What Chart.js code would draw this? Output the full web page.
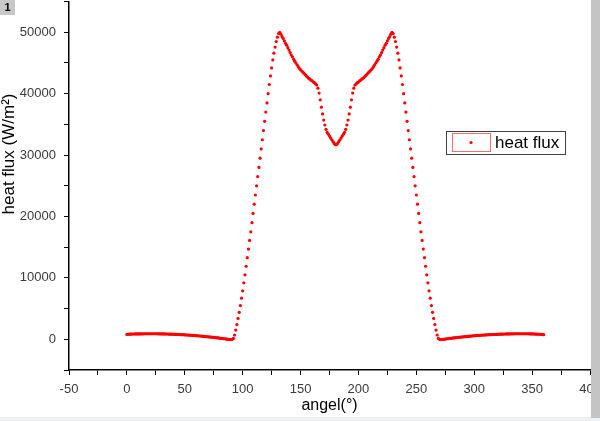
<!DOCTYPE html>
<html>
<head>
<meta charset="utf-8">
<title>heat flux</title>
<script src="https://cdn.jsdelivr.net/npm/chart.js@4.4.1/dist/chart.umd.min.js"></script>
<style>
    html, body { margin: 0; padding: 0; background: #ffffff; }
    #wrap { position: relative; width: 600px; height: 421px; }
</style>
</head>
<body>
<div id="wrap"><canvas id="chartHeatFlux" width="600" height="421"></canvas></div>
<script>
// Data: one sample per degree, 0..360 deg
const angleStart = 0;
const angleStep = 1;
const heatFlux = [
    800, 820, 830, 840, 850, 860, 860, 870, 870, 880,                       // 0-9
    880, 880, 890, 890, 890, 900, 900, 900, 900, 900,                       // 10-19
    900, 900, 900, 900, 900, 900, 900, 890, 890, 890,                       // 20-29
    880, 880, 870, 870, 860, 860, 850, 840, 840, 830,                       // 30-39
    820, 810, 800, 790, 790, 780, 770, 760, 750, 740,                       // 40-49
    730, 710, 700, 690, 680, 660, 650, 640, 620, 610,                       // 50-59
    590, 580, 560, 540, 530, 510, 490, 470, 450, 430,                       // 60-69
    410, 390, 370, 350, 330, 310, 290, 260, 240, 220,                       // 70-79
    190, 170, 140, 120, 90, 70, 40, 20, 0, -30,                             // 80-89
    -50, 0, 150, 700, 1500, 2400, 3400, 4400, 5500, 6700,                   // 90-99
    7900, 9200, 10500, 11900, 13300, 14700, 16100, 17500, 19000, 20500,     // 100-109
    22000, 23500, 25000, 26500, 28000, 29500, 31000, 32500, 34000, 35500,   // 110-119
    37000, 38500, 40000, 41500, 42900, 44200, 45500, 46600, 47600, 48500,   // 120-129
    49200, 49800, 50000, 49700, 49300, 49000, 48600, 48200, 47900, 47500,   // 130-139
    47100, 46700, 46300, 46000, 45600, 45300, 45000, 44700, 44400, 44100,   // 140-149
    43900, 43700, 43500, 43300, 43100, 42900, 42700, 42500, 42400, 42200,   // 150-159
    42100, 41900, 41800, 41600, 41400, 40900, 40100, 39000, 37800, 36700,   // 160-169
    35700, 34900, 34200, 33700, 33400, 33100, 32800, 32500, 32200, 31900,   // 170-179
    31700,                                                                  // 180
    31700, 31900, 32200, 32500, 32800, 33100, 33400, 33700, 34200, 34900,   // 181-190
    35700, 36700, 37800, 39000, 40100, 40900, 41400, 41600, 41800, 41900,   // 191-200
    42100, 42200, 42400, 42500, 42700, 42900, 43100, 43300, 43500, 43700,   // 201-210
    43900, 44100, 44400, 44700, 45000, 45300, 45600, 46000, 46300, 46700,   // 211-220
    47100, 47500, 47900, 48200, 48600, 49000, 49300, 49700, 50000, 49800,   // 221-230
    49200, 48500, 47600, 46600, 45500, 44200, 42900, 41500, 40000, 38500,   // 231-240
    37000, 35500, 34000, 32500, 31000, 29500, 28000, 26500, 25000, 23500,   // 241-250
    22000, 20500, 19000, 17500, 16100, 14700, 13300, 11900, 10500, 9200,    // 251-260
    7900, 6700, 5500, 4400, 3400, 2400, 1500, 700, 150, 0,                  // 261-270
    -50, -30, 0, 20, 40, 70, 90, 120, 140, 170,                             // 271-280
    190, 220, 240, 260, 290, 310, 330, 350, 370, 390,                       // 281-290
    410, 430, 450, 470, 490, 510, 530, 540, 560, 580,                       // 291-300
    590, 610, 620, 640, 650, 660, 680, 690, 700, 710,                       // 301-310
    730, 740, 750, 760, 770, 780, 790, 790, 800, 810,                       // 311-320
    820, 830, 840, 840, 850, 860, 860, 870, 870, 880,                       // 321-330
    880, 890, 890, 890, 900, 900, 900, 900, 900, 900,                       // 331-340
    900, 900, 900, 900, 900, 900, 890, 890, 880, 880,                       // 341-350
    870, 860, 850, 840, 830, 820, 810, 800, 780, 760                        // 351-360
];
const xTickLabels = [-50, 0, 50, 100, 150, 200, 250, 300, 350, 400];
const yTickLabels = [0, 10000, 20000, 30000, 40000, 50000];
const seriesName = 'heat flux';

document.addEventListener("DOMContentLoaded", function () {
    Chart.defaults.font.family = '"Liberation Sans", Arial, Helvetica, sans-serif';
    Chart.defaults.color = '#333333';

    const points = heatFlux.map((v, i) => ({ x: angleStart + i * angleStep, y: v }));

    // Extras drawn over the plot: y title, legend box, window chrome
    const decor = {
        id: 'decor',
        afterDraw(chart) {
            const ctx = chart.ctx;
            ctx.save();

            // y axis title
            ctx.save();
            ctx.translate(9, 154);
            ctx.rotate(-Math.PI / 2);
            ctx.font = '17px "Liberation Sans", Arial, sans-serif';
            ctx.fillStyle = '#000000';
            ctx.textAlign = 'center';
            ctx.textBaseline = 'middle';
            ctx.fillText('heat flux (W/m\u00B2)', 0, 0);
            ctx.restore();

            // legend
            ctx.lineWidth = 1;
            ctx.strokeStyle = '#404040';
            ctx.fillStyle = '#ffffff';
            ctx.fillRect(446.5, 131.5, 119, 23);
            ctx.strokeRect(446.5, 131.5, 119, 23);
            ctx.strokeStyle = '#ff6a6a';
            ctx.strokeRect(452.5, 133.5, 38, 18);
            ctx.fillStyle = '#ff0000';
            ctx.beginPath();
            ctx.arc(471, 142.5, 1.6, 0, Math.PI * 2);
            ctx.fill();
            ctx.fillStyle = '#000000';
            ctx.font = '17px "Liberation Sans", Arial, sans-serif';
            ctx.textAlign = 'left';
            ctx.textBaseline = 'middle';
            ctx.fillText(seriesName, 495, 143);

            // layer tag "1"
            ctx.fillStyle = '#c8c8c8';
            ctx.fillRect(0, 0, 15, 15);
            ctx.fillStyle = '#000000';
            ctx.font = 'bold 11px "Liberation Sans", Arial, sans-serif';
            ctx.textAlign = 'center';
            ctx.fillText('1', 7.5, 8);

            // right scrollbar strip and bottom frame
            ctx.fillStyle = '#c4c4c4';
            ctx.fillRect(591, 0, 9, 418);
            ctx.fillStyle = '#eef1f6';
            ctx.fillRect(0, 418, 600, 3);
            ctx.fillStyle = '#f3efdc';
            ctx.fillRect(0, 417, 591, 1);

            ctx.restore();
        }
    };

    const ctx = document.getElementById('chartHeatFlux').getContext('2d');

    new Chart(ctx, {
        type: 'scatter',
        data: {
            datasets: [{
                label: seriesName,
                data: points,
                showLine: false,
                pointRadius: 1.6,
                pointBorderWidth: 0,
                pointBackgroundColor: '#ff0000',
                pointHoverRadius: 1.6
            }]
        },
        options: {
            responsive: false,
            animation: false,
            layout: { padding: { top: 0, right: 10, bottom: 0, left: 0 } },
            plugins: {
                legend: { display: false },
                tooltip: { enabled: false }
            },
            scales: {
                x: {
                    type: 'linear',
                    min: -50,
                    max: 400,
                    border: { display: true, color: '#000000', width: 1.5 },
                    grid: { drawOnChartArea: false, drawTicks: true, tickLength: 5, color: '#000000' },
                    ticks: {
                        stepSize: 25,
                        autoSkip: false,
                        maxRotation: 0,
                        padding: 7,
                        font: { size: 13 },
                        color: '#3a3a3a',
                        callback: (v) => xTickLabels.includes(v) ? String(v) : ''
                    },
                    title: {
                        display: true,
                        text: 'angel(\u00B0)',
                        color: '#000000',
                        font: { size: 16 },
                        padding: { top: 0, bottom: 6 }
                    },
                    afterFit(scale) {
                        scale.height = 51;
                        scale.paddingLeft = 0;
                        scale.paddingRight = 0;
                    }
                },
                y: {
                    type: 'linear',
                    min: -5000,
                    max: 55000,
                    border: { display: true, color: '#000000', width: 1.5 },
                    grid: { drawOnChartArea: false, drawTicks: true, tickLength: 5, color: '#000000' },
                    ticks: {
                        stepSize: 5000,
                        autoSkip: false,
                        padding: 8,
                        font: { size: 13 },
                        color: '#3a3a3a',
                        callback: (v) => yTickLabels.includes(v) ? String(v) : ''
                    },
                    afterFit(scale) {
                        scale.width = 69;
                        scale.paddingTop = 0;
                        scale.paddingBottom = 0;
                    }
                }
            }
        },
        plugins: [decor]
    });
});
</script>
</body>
</html>
